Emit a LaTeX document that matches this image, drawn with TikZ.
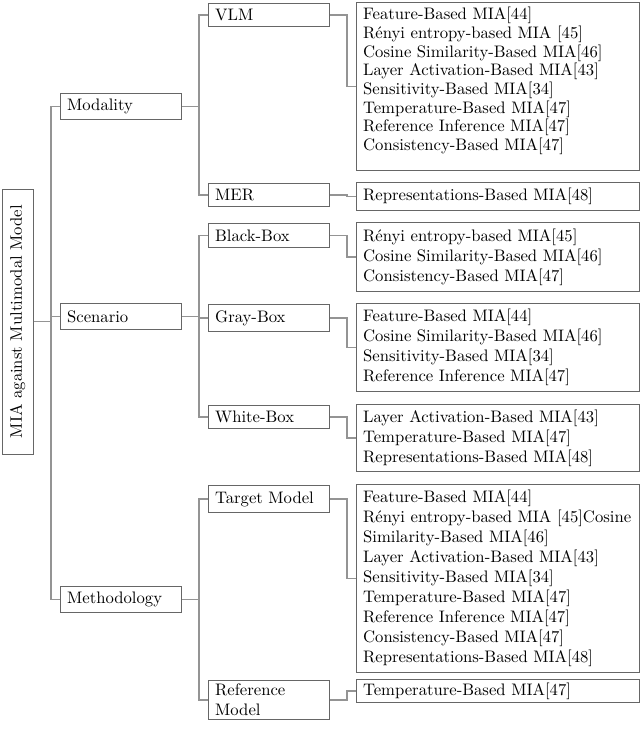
\documentclass[tikz,border=0pt]{standalone}
\usepackage{tikz}
\definecolor{boxc}{gray}{0.40}
\definecolor{edgec}{gray}{0.58}
\begin{document}
\begin{tikzpicture}[x=0.6pt,y=-0.6pt,
  box/.style={draw=boxc, line width=0.6pt, anchor=north west, inner xsep=4pt, inner ysep=0pt,
    align=left, font=\fontsize{10}{12}\selectfont},
  lvone/.style={box, text width=64.6pt, minimum height=15.6pt},
  lvtwo/.style={box, text width=64.6pt},
  leaf/.style={box, text width=161.8pt},
  edge/.style={draw=edgec, line width=0.7pt}]
\useasboundingbox (0,0) rectangle (640,730);
% root
\node[draw=boxc, line width=0.6pt, rotate=90, minimum width=159pt, minimum height=18.6pt, inner sep=0pt,
  font=\fontsize{10}{12}\selectfont] (root) at (17.5,321.5) {MIA against Multimodal Model};
% level 1
\node[lvone] (mod) at (60,93) {Modality};
\node[lvone] (sce) at (60,303) {Scenario};
\node[lvone] (met) at (60,586) {Methodology};
% level 2
\node[lvtwo, minimum height=13.8pt] (vlm) at (208,3) {VLM};
\node[lvtwo, minimum height=13.8pt] (mer) at (208,183) {MER};
\node[lvtwo, minimum height=14.4pt] (blk) at (208,223) {Black-Box};
\node[lvtwo, minimum height=16.2pt] (gry) at (208,304) {Gray-Box};
\node[lvtwo, minimum height=13.8pt] (wht) at (208,405) {White-Box};
\node[lvtwo, minimum height=16.2pt] (tgt) at (208,485) {Target Model};
\node[lvtwo, minimum height=23.4pt] (ref) at (208,680) {Reference\\Model};
% leaves
\node[leaf, minimum height=100.8pt, font=\fontsize{10}{11.2}\selectfont] (lvlm) at (356,2) {Feature-Based MIA[44]\\R\'enyi entropy-based MIA [45]\\Cosine Similarity-Based MIA[46]\\Layer Activation-Based MIA[43]\\Sensitivity-Based MIA[34]\\Temperature-Based MIA[47]\\Reference Inference MIA[47]\\Consistency-Based MIA[47]\\[-2pt]\mbox{}};
\node[leaf, minimum height=16.8pt] (lmer) at (356,182) {Representations-Based MIA[48]};
\node[leaf, minimum height=41.4pt] (lblk) at (356,222) {R\'enyi entropy-based MIA[45]\\Cosine Similarity-Based MIA[46]\\Consistency-Based MIA[47]};
\node[leaf, minimum height=52.8pt] (lgry) at (356,303) {Feature-Based MIA[44]\\Cosine Similarity-Based MIA[46]\\Sensitivity-Based MIA[34]\\Reference Inference MIA[47]};
\node[leaf, minimum height=40.2pt] (lwht) at (356,404) {Layer Activation-Based MIA[43]\\Temperature-Based MIA[47]\\Representations-Based MIA[48]};
\node[leaf, minimum height=112.8pt] (ltgt) at (356,484) {Feature-Based MIA[44]\\R\'enyi entropy-based MIA [45]Cosine\\Similarity-Based MIA[46]\\Layer Activation-Based MIA[43]\\Sensitivity-Based MIA[34]\\Temperature-Based MIA[47]\\Reference Inference MIA[47]\\Consistency-Based MIA[47]\\Representations-Based MIA[48]};
\node[leaf, minimum height=13.8pt] (lref) at (356,679) {Temperature-Based MIA[47]};
% fork columns
\coordinate (fa) at (51,0);
\coordinate (fb) at (199,0);
\coordinate (fc) at (347,0);
% edges
\foreach \c in {mod,sce,met}
  \draw[edge] (root.south) -- (root.south -| fa) |- (\c.west);
\foreach \p/\c in {mod/vlm,mod/mer,sce/blk,sce/gry,sce/wht,met/tgt,met/ref}
  \draw[edge] (\p.east) -- (\p.east -| fb) |- (\c.west);
\foreach \p/\c in {vlm/lvlm,mer/lmer,blk/lblk,gry/lgry,wht/lwht,tgt/ltgt,ref/lref}
  \draw[edge] (\p.east) -- (\p.east -| fc) |- (\c.west);
\end{tikzpicture}
\end{document}
